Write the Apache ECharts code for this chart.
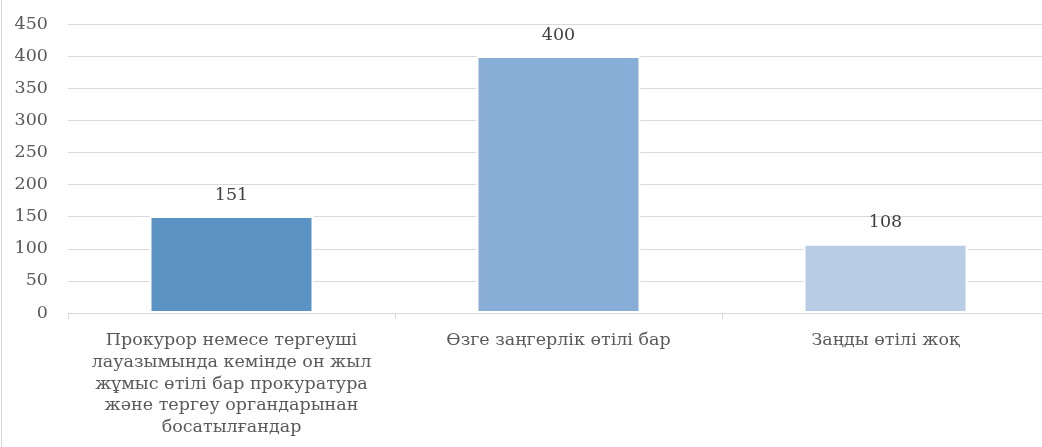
<!DOCTYPE html>
<html>
<head>
<meta charset="utf-8">
<script src="https://cdn.jsdelivr.net/npm/echarts@6/dist/echarts.min.js"></script>
<style>
html,body{margin:0;padding:0;background:#fff;}
#wrap{position:absolute;left:0;top:0;width:1042px;height:447px;overflow:hidden;}
#edge{position:absolute;left:1px;top:0;width:1px;height:447px;background:#d9d9d9;}
#chart{position:absolute;left:0;top:0;width:1042px;height:447px;}
</style>
</head>
<body>
<div id="wrap"><div id="edge"></div><div id="chart"></div></div>
<script>
const categories = [
  "Прокурор немесе тергеуші\nлауазымында кемінде он жыл\nжұмыс өтілі бар прокуратура\nжәне тергеу органдарынан\nбосатылғандар",
  "Өзге заңгерлік өтілі бар",
  "Заңды өтілі жоқ"
];
const values = [151, 400, 108];
const barColors = ["#5B93C4", "#88AED8", "#B8CDE5"];
const yTicks = { min: 0, max: 450, interval: 50 };

const FONT = "DejaVu Serif";
const chart = echarts.init(document.getElementById('chart'), null, {renderer: 'canvas'});
chart.setOption({
  animation: false,
  backgroundColor: 'transparent',
  grid: { left: 68, width: 981, top: 24, height: 289, containLabel: false, outerBoundsMode: 'none' },
  xAxis: {
    type: 'category',
    data: categories,
    boundaryGap: true,
    axisLine: { show: true, lineStyle: { color: '#d9d9d9', width: 1 } },
    axisTick: { show: true, length: 6, lineStyle: { color: '#d9d9d9' } },
    axisLabel: { color: '#595959', fontFamily: FONT, fontSize: 17.5, lineHeight: 21.7, margin: 17, interval: 0 }
  },
  yAxis: {
    type: 'value',
    min: yTicks.min, max: yTicks.max, interval: yTicks.interval,
    axisLine: { show: false },
    axisTick: { show: false },
    splitLine: { lineStyle: { color: '#d9d9d9', width: 1 } },
    axisLabel: { color: '#595959', fontFamily: FONT, fontSize: 17.5, margin: 20 }
  },
  series: [{
    type: 'bar',
    data: values.map((v, i) => ({ value: v, itemStyle: { color: barColors[i] } })),
    barWidth: 164,
    itemStyle: { borderColor: '#ffffff', borderWidth: 2 },
    label: { show: true, position: 'top', distance: 12, color: '#404040', fontFamily: FONT, fontSize: 17.5 }
  }]
});
</script>
</body>
</html>
